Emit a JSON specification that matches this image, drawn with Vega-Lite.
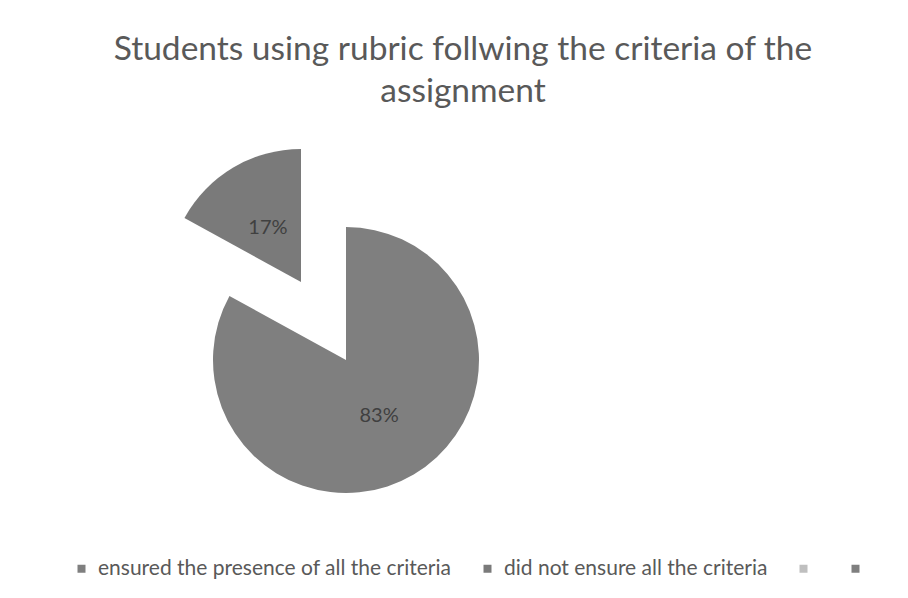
{
  "$schema": "https://vega.github.io/schema/vega-lite/v6.json",
  "autosize": "none",
  "width": 692,
  "height": 476,
  "padding": {"left": 0, "top": 122, "right": 216, "bottom": 0},
  "background": "white",
  "config": {"view": {"stroke": null}},
  "title": {
    "text": ["Students using rubric follwing the criteria of the", "assignment"],
    "font": "Lato",
    "fontSize": 33.5,
    "fontWeight": "normal",
    "color": "#595959",
    "lineHeight": 42,
    "anchor": "middle",
    "dx": 117,
    "offset": 13
  },
  "data": {
    "values": [
      {"label": "ensured the presence of all the criteria", "value": 0.83},
      {"label": "did not ensure all the criteria", "value": 0.17}
    ]
  },
  "encoding": {
    "theta": {"field": "value", "type": "quantitative", "stack": true},
    "order": {"field": "value", "type": "quantitative", "sort": "descending"}
  },
  "layer": [
    {
      "mark": {"type": "arc", "outerRadius": 133},
      "encoding": {
        "color": {
          "field": "label",
          "type": "nominal",
          "scale": {
            "domain": ["ensured the presence of all the criteria", "did not ensure all the criteria", "", " "],
            "range": ["#7f7f7f", "#7a7a7a", "#bfbfbf", "#7f7f7f"]
          },
          "legend": {
            "title": null,
            "orient": "none",
            "legendX": 71,
            "legendY": 436,
            "direction": "horizontal",
            "symbolType": "square",
            "symbolSize": 64,
            "symbolStrokeWidth": 0,
            "labelFont": "Lato",
            "labelFontSize": 21,
            "labelColor": "#595959",
            "labelLimit": 0,
            "labelOffset": 6,
            "columnPadding": 25
          }
        },
        "opacity": {"condition": {"test": "datum.label === 'did not ensure all the criteria'", "value": 0}, "value": 1}
      }
    },
    {
      "mark": {"type": "arc", "outerRadius": 133, "xOffset": -45, "yOffset": -78},
      "encoding": {
        "color": {"field": "label", "type": "nominal"},
        "opacity": {"condition": {"test": "datum.label === 'did not ensure all the criteria'", "value": 1}, "value": 0}
      }
    },
    {
      "mark": {"type": "text", "radius": 65, "font": "Lato", "fontSize": 20, "color": "#404040"},
      "encoding": {
        "text": {"field": "value", "type": "quantitative", "format": ".0%"},
        "opacity": {"condition": {"test": "datum.label === 'did not ensure all the criteria'", "value": 0}, "value": 1}
      }
    },
    {
      "mark": {"type": "text", "radius": 65, "xOffset": -45, "yOffset": -76, "font": "Lato", "fontSize": 20, "color": "#404040"},
      "encoding": {
        "text": {"field": "value", "type": "quantitative", "format": ".0%"},
        "opacity": {"condition": {"test": "datum.label === 'did not ensure all the criteria'", "value": 1}, "value": 0}
      }
    }
  ]
}
